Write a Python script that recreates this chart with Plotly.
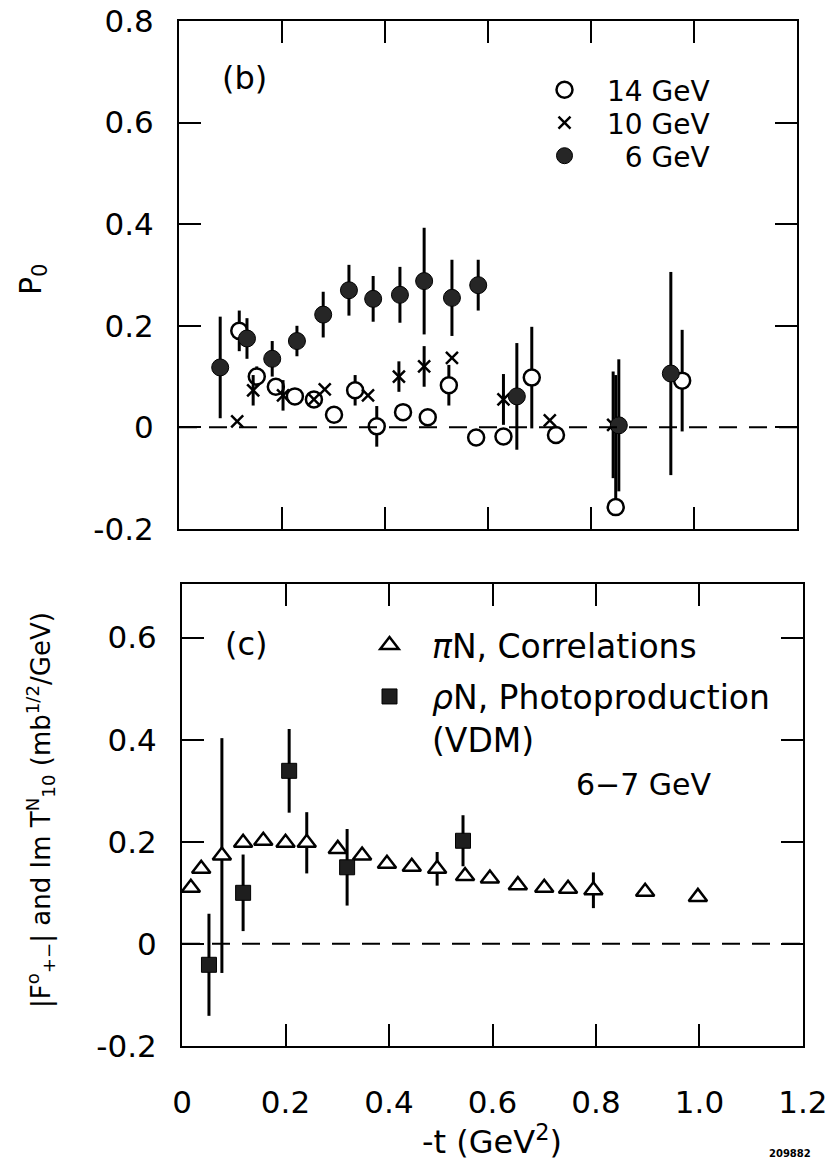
import plotly.graph_objects as go

# ---------------- data: panel (b) ----------------
x14 = [0.117, 0.151, 0.188, 0.225, 0.262, 0.301, 0.342, 0.384, 0.435, 0.483, 0.524, 0.577, 0.630, 0.685, 0.732, 0.848, 0.977]
y14 = [0.190, 0.100, 0.080, 0.061, 0.055, 0.025, 0.073, 0.002, 0.030, 0.020, 0.083, -0.020, -0.018, 0.098, -0.015, -0.157, 0.092]
e14_up = [0.04, 0.02, 0, 0, 0, 0, 0.03, 0.04, 0, 0, 0.04, 0, 0, 0.10, 0, 0.26, 0.10]
e14_dn = [0.04, 0.02, 0, 0, 0, 0, 0.03, 0.04, 0, 0, 0.04, 0, 0, 0.10, 0, 0.0, 0.10]

x10 = [0.113, 0.144, 0.202, 0.262, 0.283, 0.367, 0.427, 0.476, 0.530, 0.630, 0.720, 0.843]
y10 = [0.012, 0.073, 0.063, 0.055, 0.075, 0.063, 0.100, 0.120, 0.137, 0.055, 0.014, 0.005]
e10 = [0, 0.03, 0.03, 0, 0, 0, 0.03, 0.04, 0, 0.05, 0, 0.105]

x6 = [0.080, 0.132, 0.181, 0.229, 0.280, 0.330, 0.377, 0.429, 0.476, 0.530, 0.581, 0.656, 0.854, 0.955]
y6 = [0.118, 0.175, 0.135, 0.170, 0.222, 0.270, 0.253, 0.261, 0.288, 0.255, 0.280, 0.061, 0.004, 0.106]
e6 = [0.10, 0.04, 0.035, 0.03, 0.045, 0.05, 0.045, 0.055, 0.105, 0.075, 0.05, 0.105, 0.13, 0.20]

# ---------------- data: panel (c) ----------------
x_pi = [0.017, 0.037, 0.077, 0.118, 0.157, 0.200, 0.241, 0.301, 0.348, 0.396, 0.444, 0.493, 0.547, 0.595, 0.649, 0.700, 0.746, 0.795, 0.895, 0.997]
y_pi = [0.110, 0.147, 0.173, 0.198, 0.202, 0.198, 0.198, 0.186, 0.173, 0.157, 0.151, 0.147, 0.133, 0.128, 0.115, 0.110, 0.108, 0.105, 0.102, 0.092]
e_pi = [0, 0, 0.23, 0, 0, 0, 0.06, 0, 0, 0, 0, 0.033, 0, 0, 0, 0, 0, 0.035, 0, 0]

x_rho = [0.052, 0.118, 0.207, 0.319, 0.543]
y_rho = [-0.041, 0.100, 0.339, 0.150, 0.202]
e_rho = [0.10, 0.075, 0.082, 0.075, 0.05]

# ---------------- ticks ----------------
xt_vals = [0, 0.2, 0.4, 0.6, 0.8, 1.0, 1.2]
xt_text = ["0", "0.2", "0.4", "0.6", "0.8", "1.0", "1.2"]
yb_vals = [-0.2, 0, 0.2, 0.4, 0.6, 0.8]
yb_text = ["-0.2", "0", "0.2", "0.4", "0.6", "0.8"]
yc_vals = [-0.2, 0, 0.2, 0.4, 0.6]
yc_text = ["-0.2", "0", "0.2", "0.4", "0.6"]

# page offset of the plot div (default body margin)
OFF = 8
W, H = 835 - OFF, 1167 - OFF
FONT = "DejaVu Sans"

def px(x):
    return (x - OFF) / W

def py(y):
    return 1 - (y - OFF) / H

def ebar(up, dn=None):
    d = dict(type="data", array=up, thickness=3, width=0, color="black", visible=True)
    if dn is not None:
        d["symmetric"] = False
        d["arrayminus"] = dn
    return d

fig = go.Figure()

fig.add_trace(go.Scatter(
    x=x14, y=y14, mode="markers", name="14 GeV", xaxis="x", yaxis="y",
    marker=dict(symbol="circle", size=16, color="white", line=dict(color="black", width=2.5)),
    error_y=ebar(e14_up, e14_dn), legend="legend"))
fig.add_trace(go.Scatter(
    x=x10, y=y10, mode="markers", name="10 GeV", xaxis="x", yaxis="y",
    marker=dict(symbol="x-thin", size=12, color="black", line=dict(color="black", width=2.5)),
    error_y=ebar(e10), legend="legend2"))
fig.add_trace(go.Scatter(
    x=x6, y=y6, mode="markers", name="\u20076 GeV", xaxis="x", yaxis="y",
    marker=dict(symbol="circle", size=17, color="#262626", line=dict(color="black", width=1)),
    error_y=ebar(e6), legend="legend3"))

fig.add_trace(go.Scatter(
    x=x_pi, y=y_pi, mode="markers", name="<i>\u03c0</i>N, Correlations", xaxis="x2", yaxis="y2",
    marker=dict(symbol="triangle-up", size=16, color="white", line=dict(color="black", width=2.5)),
    error_y=ebar(e_pi), legend="legend4"))
fig.add_trace(go.Scatter(
    x=x_rho, y=y_rho, mode="markers", name="<i>\u03c1</i>N, Photoproduction<br>(VDM)", xaxis="x2", yaxis="y2",
    marker=dict(symbol="square", size=15, color="#1e1e1e", line=dict(color="black", width=1)),
    error_y=ebar(e_rho), legend="legend5"))

axis_common = dict(showgrid=False, zeroline=False, showline=True, linecolor="black", linewidth=2,
                   ticks="inside", ticklen=22, tickwidth=2, tickcolor="black", mirror="ticks",
                   automargin=False, ticklabeloverflow="allow",
                   tickfont=dict(family=FONT, size=31, color="black"))

leg_top = dict(bgcolor="rgba(0,0,0,0)", borderwidth=0, xanchor="left", yanchor="middle",
               itemwidth=75, font=dict(family=FONT, size=28, color="black"), itemclick=False)
leg_bot = dict(leg_top, font=dict(family=FONT, size=33, color="black"))

fig.update_layout(
    width=W, height=H, margin=dict(l=0, r=0, t=0, b=0, autoexpand=False),
    paper_bgcolor="white", plot_bgcolor="white",
    xaxis=dict(domain=[px(179), px(797)], range=[0, 1.2], tickvals=xt_vals[1:-1],
               showticklabels=False, anchor="y", **axis_common),
    yaxis=dict(domain=[py(529), py(21)], range=[-0.2001, 0.8001], tickvals=yb_vals, ticktext=yb_text,
               anchor="x", ticklabelstandoff=17, **axis_common),
    xaxis2=dict(domain=[px(182), px(803)], range=[-0.0001, 1.2001], tickvals=xt_vals, ticktext=xt_text,
                anchor="y2", ticklabelstandoff=28, **axis_common),
    yaxis2=dict(domain=[py(1046), py(584)], range=[-0.2001, 0.705], tickvals=yc_vals, ticktext=yc_text,
                anchor="x2", ticklabelstandoff=17, **axis_common),
    legend=dict(x=px(522), y=py(90), **leg_top),
    legend2=dict(x=px(522), y=py(123), **leg_top),
    legend3=dict(x=px(522), y=py(156), **leg_top),
    legend4=dict(x=px(347), y=py(645), **leg_bot),
    legend5=dict(x=px(347), y=py(718), valign="top", **leg_bot),
    showlegend=True,
)

# zero dashed lines
for xr, yr in (("x domain", "y"), ("x2 domain", "y2")):
    fig.add_shape(type="line", xref=xr, yref=yr, x0=0, x1=1, y0=0, y1=0,
                  line=dict(color="black", width=2, dash="18px,12px"))

def ann(text, x, y, size=30, angle=0, **kw):
    fig.add_annotation(text=text, x=px(x), y=py(y), xref="paper", yref="paper",
                       xanchor="center", yanchor="middle",
                       showarrow=False, textangle=angle,
                       font=dict(family=FONT, size=size, color="black"), **kw)

ann("(b)", 244, 78, size=32)
ann("(c)", 246, 644, size=32)
ann("6\u22127 GeV", 644, 784, size=30)
ann("P<sub>0</sub>", 33, 280, size=30, angle=-90)
ann("|F<sup>o</sup><sub>+\u2212</sub>| and Im T<sup>N</sup><sub>10</sub> (mb<sup>1/2</sup>/GeV)", 40, 810, size=26, angle=-90)
ann("-t (GeV<sup>2</sup>)", 492, 1140, size=32)
ann("<b>209882</b>", 790, 1153, size=10)

fig.write_html("out.html")
